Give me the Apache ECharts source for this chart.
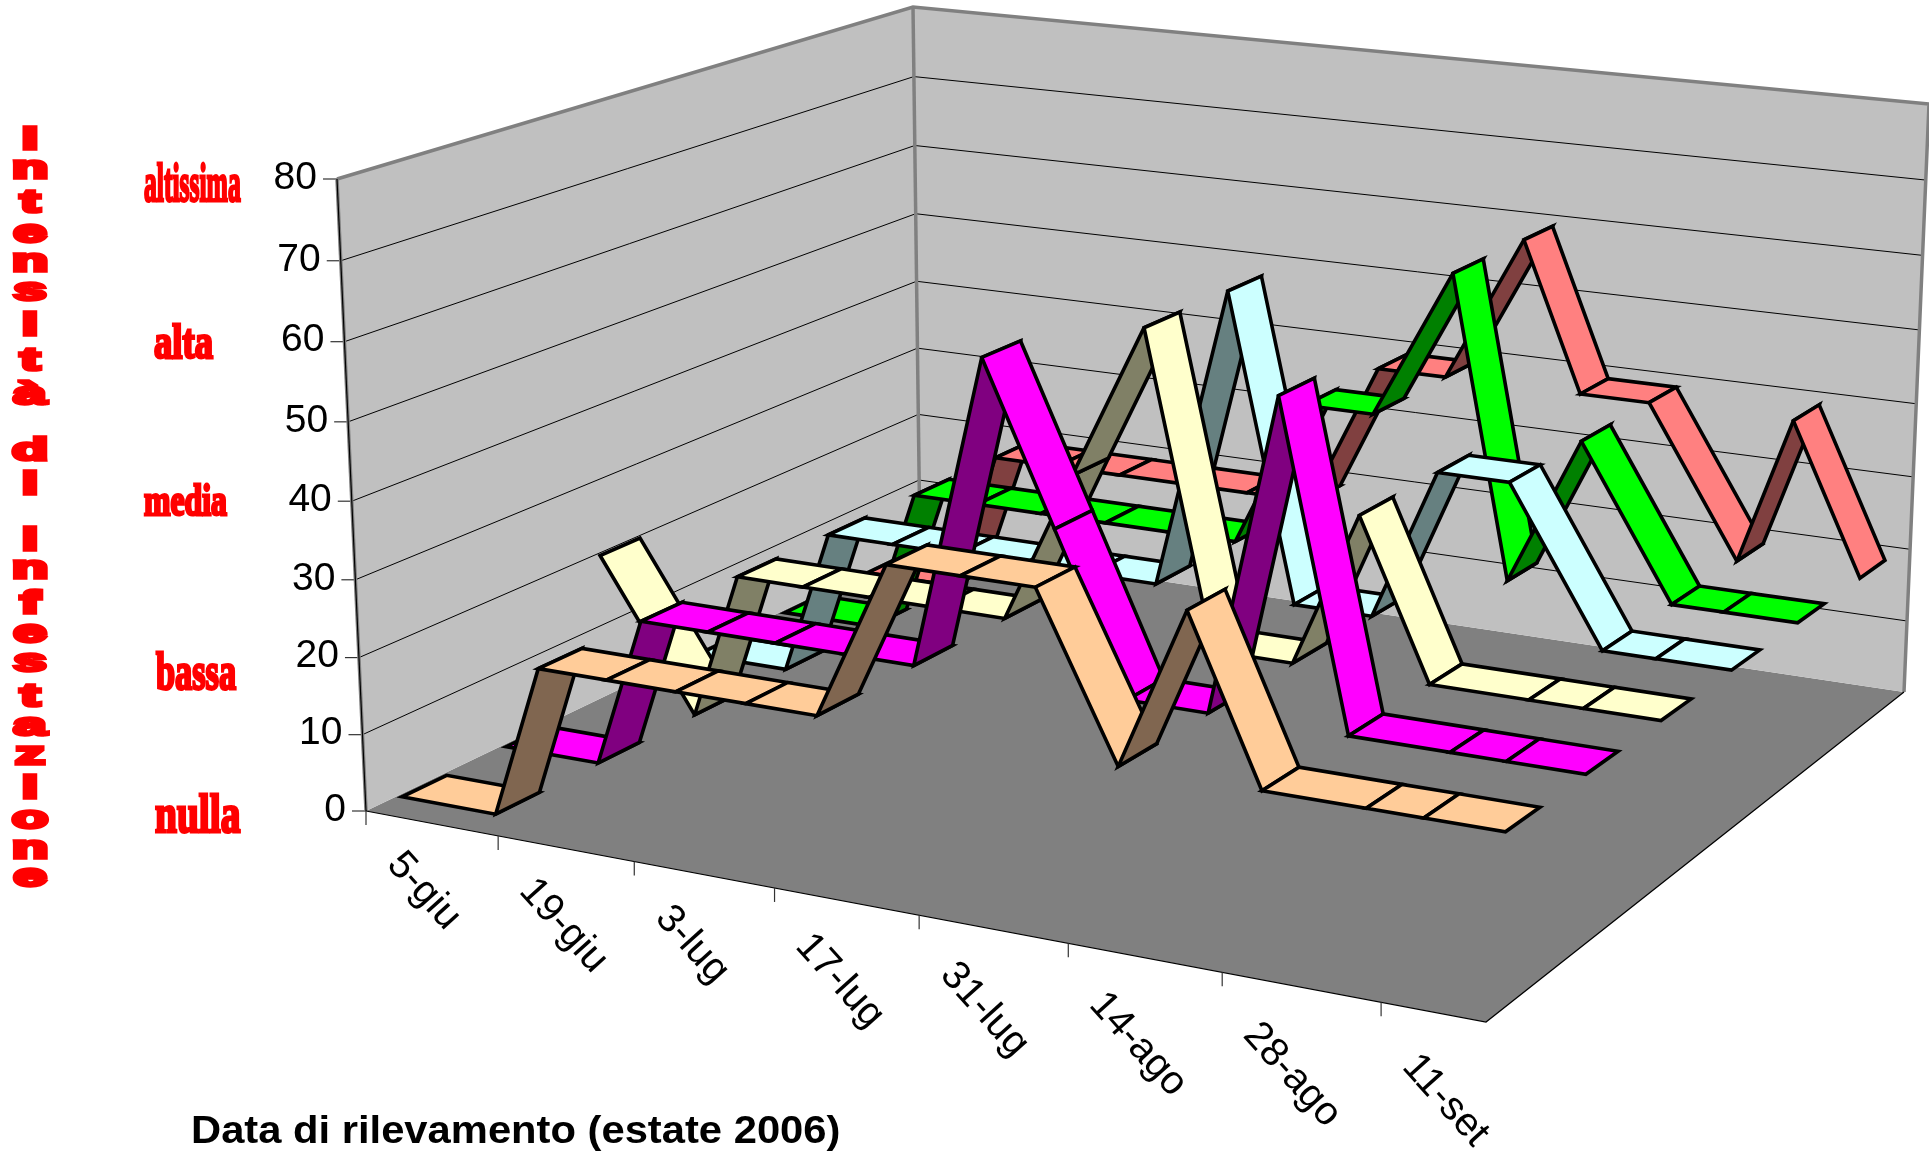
<!DOCTYPE html>
<html>
<head>
<meta charset="utf-8">
<style>html,body{margin:0;padding:0;background:#fff}#c{width:1929px;height:1154px}</style>
<script src="https://cdn.jsdelivr.net/npm/echarts@6/dist/echarts.min.js"></script>
</head>
<body>
<div id="c"></div>
<script>
// ---- data ----
const sampleDays = [0.5,10.5,15.5,22.5,29.5,36.5,43.5,50.3,57.3,64.3,72,78.1,85,94.2,99.2,106.2];
const tickDays = [0,14,28,42,56,70,84,98];
const tickLabels = ['5-giu','19-giu','3-lug','17-lug','31-lug','14-ago','28-ago','11-set'];
const valueTicks = [0,10,20,30,40,50,60,70,80];
const levelNames = ['altissima','alta','media','bassa','nulla'];
const yTitle = 'Intensità di infestazione';
const xTitle = 'Data di rilevamento (estate 2006)';
const peach   = [0,0,20,20,20,20,20,40,40,40,20,40,20,20,20,20];
const magenta = [0,0,20,20,20,20,20,60,40,20,20,60,20,20,20,20];
const yellow  = [20,0,20,20,20,20,20,40,60,20,20,40,20,20,20,20];
const cyan    = [0,0,20,20,20,20,20,20,60,20,20,40,40,20,20,20];
const green   = [0,0,20,20,20,20,20,20,40,40,60,20,40,20,20,20];
const salmon  = [0,0,20,20,20,20,20,20,40,40,60,40,40,20,40,20];

// ---- styles (front to back) ----
const ribbons = [
  {values:peach,   top:'#FFCC99', side:'#806650'},
  {values:magenta, top:'#FF00FF', side:'#800080'},
  {values:yellow,  top:'#FFFFCC', side:'#808066'},
  {values:cyan,    top:'#CCFFFF', side:'#668080'},
  {values:green,   top:'#00FF00', side:'#008000'},
  {values:salmon,  top:'#FF8080', side:'#804040'}
];
const DAY_MAX = 107, VAL_MAX = 80;

// ---- view: the box's corners on the page ----
const GL=100, GT=100, GW=1000, GH=800;
function homography(p){
  const [x0,y0]=p[0],[x1,y1]=p[1],[x2,y2]=p[2],[x3,y3]=p[3];
  const sx=x0-x1+x2-x3, sy=y0-y1+y2-y3, dx1=x1-x2, dx2=x3-x2, dy1=y1-y2, dy2=y3-y2;
  const den=dx1*dy2-dx2*dy1;
  const g=(sx*dy2-dx2*sy)/den, h=(dx1*sy-sx*dy1)/den;
  const a=x1-x0+g*x1, b=x3-x0+h*x3, d=y1-y0+g*y1, e=y3-y0+h*y3;
  return (u,v)=>{const w=g*u+h*v+1;return [(a*u+b*v+x0)/w,(d*u+e*v+y0)/w];};
}
const floorH = homography([[366,811],[1486,1022],[1904,692],[920,545]]);
const roofH  = homography([[337,179],[1505,317],[1929,104],[913,7]]);
function proj(u,v,z){
  const t=z/(z+(1-z)*1.04);
  const f=floorH(u,v), r=roofH(u,v);
  return [f[0]+(r[0]-f[0])*t, f[1]+(r[1]-f[1])*t];
}
function norm(api,day,val){
  const c=api.coord([day,val]);
  return [(c[0]-GL)/GW,(GT+GH-c[1])/GH];
}
const RIBBON_HALF=0.035;

function ribbonRender(idx){
  const v=(idx+0.5)/ribbons.length, v0=v-RIBBON_HALF, v1=v+RIBBON_HALF, r=ribbons[idx];
  return function(params,api){
    const a=norm(api,api.value(0),api.value(1)), b=norm(api,api.value(2),api.value(3));
    const pts=[proj(a[0],v0,a[1]),proj(b[0],v0,b[1]),proj(b[0],v1,b[1]),proj(a[0],v1,a[1])];
    const rising=api.value(3)>api.value(1);
    return {type:'polygon',shape:{points:pts},
      style:{fill:rising?r.side:r.top,stroke:'#000',lineWidth:3.6,lineJoin:'miter'}};
  };
}
function line(points,stroke,w){
  return {type:'polyline',shape:{points},style:{fill:'none',stroke,lineWidth:w}};
}
function boxRender(params,api){
  const kids=[];
  const P=(day,v,val)=>{const n=norm(api,day,val);return proj(n[0],v,n[1]);};
  kids.push({type:'polygon',shape:{points:[P(0,0,0),P(DAY_MAX,0,0),P(DAY_MAX,1,0),P(0,1,0)]},style:{fill:'#808080'}});
  kids.push({type:'polygon',shape:{points:[P(0,0,0),P(0,1,0),P(0,1,VAL_MAX),P(0,0,VAL_MAX)]},style:{fill:'#C0C0C0'}});
  kids.push({type:'polygon',shape:{points:[P(0,1,0),P(DAY_MAX,1,0),P(DAY_MAX,1,VAL_MAX),P(0,1,VAL_MAX)]},style:{fill:'#C0C0C0'}});
  valueTicks.forEach(t=>{
    if(t>0&&t<VAL_MAX) kids.push(line([P(0,0,t),P(0,1,t),P(DAY_MAX,1,t)],'#000',1));
    const s=P(0,0,t);
    kids.push(line([s,[s[0]-14,s[1]]],'#333',1.2));
    kids.push({type:'text',x:s[0]-20,y:s[1]-1,style:{text:String(t),font:'39px "Liberation Sans"',fill:'#000',textAlign:'right',textVerticalAlign:'middle'}});
  });
  kids.push(line([P(0,0,VAL_MAX),P(0,1,VAL_MAX),P(DAY_MAX,1,VAL_MAX),P(DAY_MAX,1,0)],'#808080',3.5));
  kids.push(line([P(0,1,VAL_MAX),P(0,1,0)],'#808080',3.5));
  kids.push(line([P(0,0,VAL_MAX),P(0,0,0)],'#808080',3.5));
  kids.push(line([P(0,0,VAL_MAX),P(0,0,0)],'#000',1.2));
  kids.push(line([P(0,0,0),P(DAY_MAX,0,0),P(DAY_MAX,1,0)],'#000',1.2));
  tickDays.forEach((d,i)=>{
    const s=P(d,0,0);
    kids.push(line([s,[s[0],s[1]+14]],'#333',1.2));
    const f=d/DAY_MAX;
    kids.push({type:'text',x:s[0]+28,y:s[1]+47+12*f,rotation:-48*Math.PI/180,
      style:{text:tickLabels[i],font:'40px "Liberation Sans"',fill:'#000',textAlign:'left',textVerticalAlign:'middle'}});
  });
  return {type:'group',children:kids};
}

const series=[{type:'custom',renderItem:boxRender,data:[[0,0]],silent:true,animation:false,clip:false,z:1}];
for(let i=ribbons.length-1;i>=0;i--){
  const vals=ribbons[i].values;
  const segs=[];
  for(let k=0;k<vals.length-1;k++) segs.push([sampleDays[k],vals[k],sampleDays[k+1],vals[k+1]]);
  series.push({type:'custom',renderItem:ribbonRender(i),data:segs,silent:true,animation:false,clip:false,
    encode:{x:[0,2],y:[1,3]},z:2});
}

// ---- page texts ----
// left edge, baseline, font size, horizontal squeeze of each red word
const levelBoxes=[[144,205,54,0.474],[154,361,48,0.762],[144,518,44,0.722],[156,693,52,0.66],[155,836,54,0.729]];
const graphics=levelNames.map((t,i)=>{
  const b=levelBoxes[i];
  return {type:'text',x:b[0],y:b[1]-0.33*b[2],scaleX:b[3],
    style:{text:t,font:'bold '+b[2]+'px "Liberation Serif"',fill:'#f00',stroke:'#f00',lineWidth:3,textAlign:'left',textVerticalAlign:'middle'}};
});
const letterBottoms=[151,180,214,244,273,302,337,372,406,null,462,496,null,552,580,615,644,673,708,737,766,800,830,860,888];
Array.from(yTitle).forEach((ch,i)=>{
  if(ch===' ')return;
  graphics.push({type:'text',x:30,y:letterBottoms[i]-11,scaleX:1.85,
    style:{text:ch,font:'bold 32px "Liberation Sans"',fill:'#f00',stroke:'#f00',lineWidth:3.5,textAlign:'center',textVerticalAlign:'middle'}});
});
graphics.push({type:'text',x:191,y:1132,scaleX:1.07,style:{text:xTitle,font:'bold 39px "Liberation Sans"',fill:'#000',textAlign:'left',textVerticalAlign:'middle'}});

const chart=echarts.init(document.getElementById('c'),null,{renderer:'canvas'});
chart.setOption({
  animation:false,
  backgroundColor:'#fff',
  grid:{left:GL,top:GT,width:GW,height:GH},
  xAxis:{type:'value',min:0,max:DAY_MAX,show:false},
  yAxis:{type:'value',min:0,max:VAL_MAX,show:false},
  series,
  graphic:{elements:graphics}
});
</script>
</body>
</html>
